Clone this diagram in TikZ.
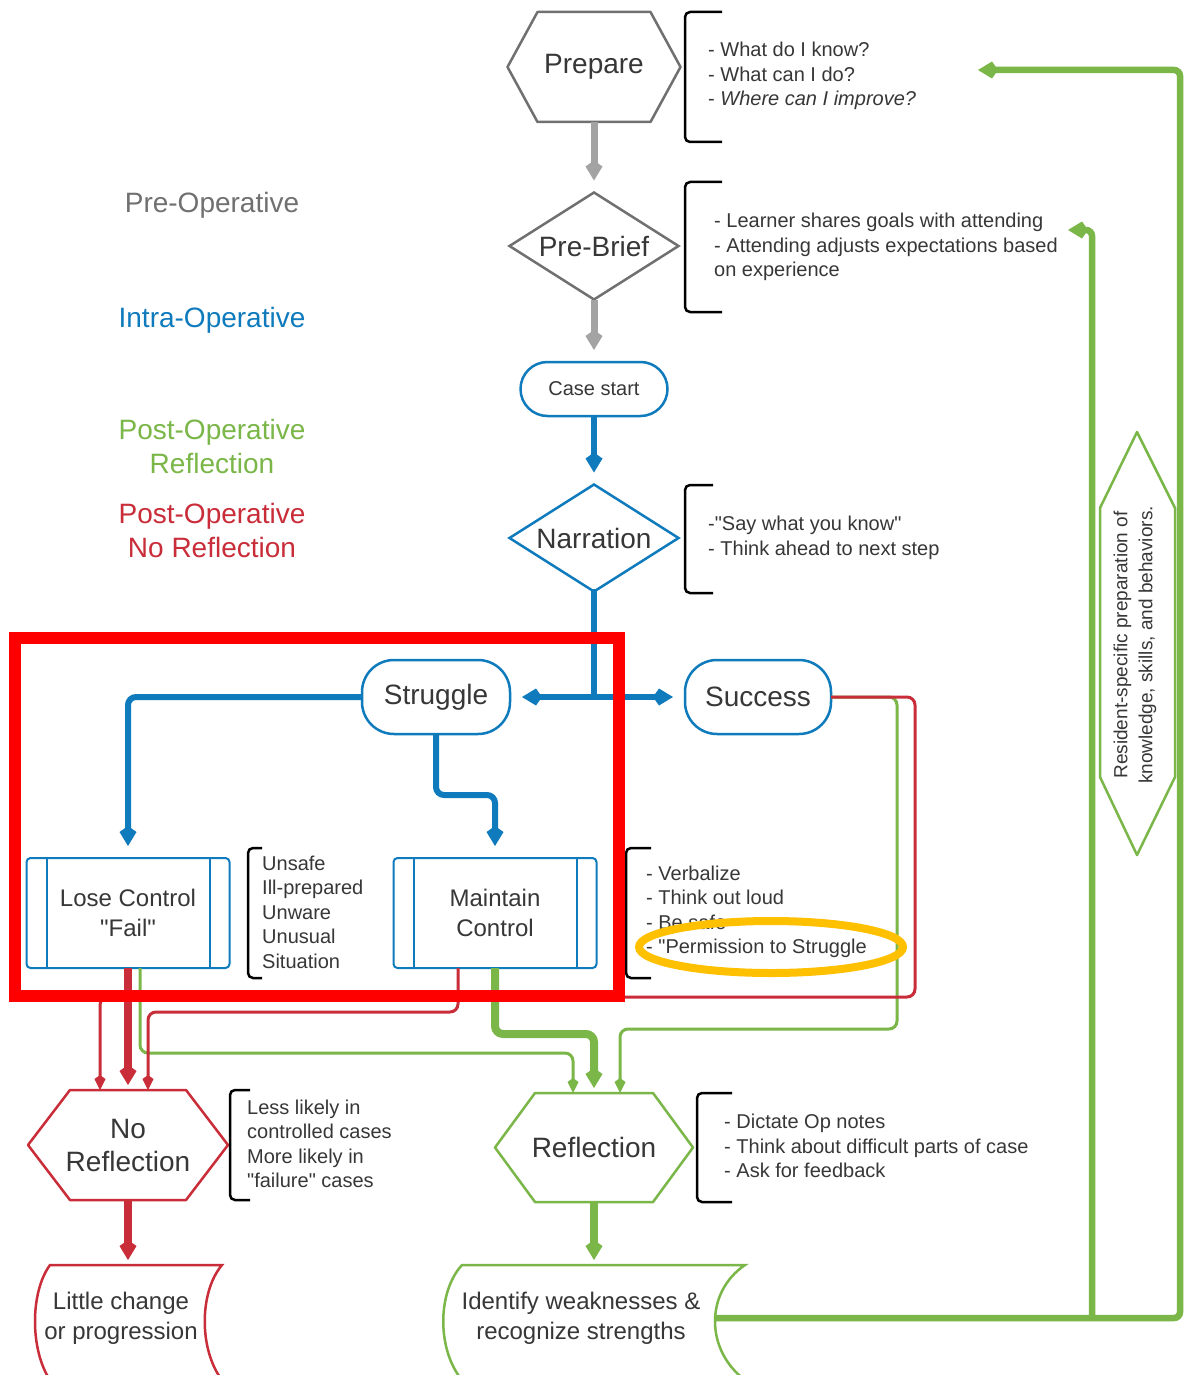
\documentclass[tikz,border=0pt]{standalone}
\usepackage{fontspec}
\setmainfont{Liberation Sans}[Ligatures=TeXOff]
\usetikzlibrary{arrows.meta,shapes.geometric,positioning}

\definecolor{opblue}{RGB}{15,123,189}
\definecolor{opgreen}{RGB}{122,182,72}
\definecolor{opred}{RGB}{201,45,57}
\definecolor{opgray}{RGB}{112,112,112}
\definecolor{linegray}{RGB}{163,163,163}
\definecolor{txt}{RGB}{55,55,55}
\definecolor{hilite}{RGB}{255,0,0}
\definecolor{gold}{RGB}{255,192,0}

% hexagon round a node: name, inset, colour
\newcommand{\hexa}[3]{%
  \draw[#3,line width=2.5pt,line join=round] (#1.west) -- ([xshift=#2]#1.north west)
    -- ([xshift=-#2]#1.north east) -- (#1.east) -- ([xshift=-#2]#1.south east)
    -- ([xshift=#2]#1.south west) -- cycle;}

\tikzset{
  big/.style={font=\fontsize{28}{33}\selectfont,text=txt,align=center},
  mid/.style={font=\fontsize{24}{30}\selectfont,text=txt,align=center},
  small/.style={font=\fontsize{20}{24.5}\selectfont,text=txt,align=left,anchor=west,inner sep=0pt},
  phase/.style={font=\fontsize{28}{34}\selectfont,align=center},
  hexnode/.style={big,minimum width=#1,minimum height=110pt,inner sep=0pt,outer sep=0pt},
  decision/.style={diamond,draw=#1,line width=2.5pt,shape aspect=1.6,minimum width=169pt,minimum height=107pt,inner sep=0pt,outer sep=0pt,big},
  stadium/.style={draw=opblue,line width=2.5pt,rounded corners=#1,inner sep=0pt,outer sep=0pt},
  procbox/.style={draw=opblue,line width=2pt,rounded corners=4pt,minimum width=203pt,minimum height=110pt,inner sep=0pt,outer sep=0pt,mid},
  bracket/.style={line width=2.5pt,rounded corners=5pt},
  bigtip/.tip={Kite[length=20pt,width=17pt,inset=6pt,line width=0pt]},
  thintip/.tip={Kite[length=15pt,width=11pt,inset=4pt,line width=0pt]},
  grayflow/.style={-bigtip,linegray,line width=7pt,shorten >=12pt},
  blueline/.style={opblue,line width=6pt,line cap=rect},
  blueflow/.style={opblue,line width=6pt,-bigtip,shorten >=12pt,rounded corners=8pt},
  redthin/.style={-thintip,opred,line width=3pt,rounded corners=8pt},
  redflow/.style={-bigtip,opred,line width=8pt,shorten >=5pt},
  greenthin/.style={-thintip,opgreen,line width=3pt,rounded corners=8pt},
  greenflow/.style={-bigtip,opgreen,line width=8pt,shorten >=5pt,rounded corners=8pt},
  greenback/.style={-bigtip,opgreen,line width=6.5pt,rounded corners=6pt}
}

\begin{document}
\begin{tikzpicture}[x=1pt,y=-1pt]
\useasboundingbox (0,0) rectangle (1184,1375);
\clip (0,0) rectangle (1184,1375);
\fill[white] (0,0) rectangle (1184,1375);

% phases
\node[phase,text=opgray] (preop) at (212,205) {Pre-Operative};
\node[phase,text=opblue] (intraop) at (212,320) {Intra-Operative};
\node[phase,text=opgreen] (postref) at (212,446) {Post-Operative\\Reflection};
\node[phase,text=opred] (postnoref) at (212,530) {Post-Operative\\No Reflection};

% main chain
\node[hexnode=173pt] (prep) at (594,67) {Prepare};
\hexa{prep}{30pt}{opgray}
\node[decision=opgray] (brief) at (594,246) {Pre-Brief};
\node[stadium=27pt,minimum width=147pt,minimum height=54pt,font=\fontsize{20}{24}\selectfont,text=txt] (start) at (594,389) {Case start};
\node[decision=opblue] (narr) at (594,538) {Narration};
\node[stadium=32pt,minimum width=148pt,minimum height=74pt,big] (strug) at (436,697) {Struggle};
\node[stadium=32pt,minimum width=146pt,minimum height=74pt,big] (succ) at (758,697) {Success};
\node[procbox] (lose) at (128,913) {Lose Control\\"Fail"};
\node[procbox] (keep) at (495,913) {Maintain\\Control};
\foreach \n in {lose,keep} {
  \draw[opblue,line width=2pt] ([xshift=20pt]\n.north west) -- ([xshift=20pt]\n.south west);
  \draw[opblue,line width=2pt] ([xshift=-20pt]\n.north east) -- ([xshift=-20pt]\n.south east);
}
\node[hexnode=200pt] (noref) at (128,1145) {No\\Reflection};
\hexa{noref}{42pt}{opred}
\node[hexnode=198pt,minimum height=109pt] (refl) at (594,1147.5) {Reflection};
\hexa{refl}{40pt}{opgreen}
\node[mid,minimum width=172pt,minimum height=106pt,inner sep=0pt,outer sep=0pt] (little) at (121,1318) {Little change\\or progression};
\draw[opred,line width=2.5pt] (222,1380) .. controls (199,1350) and (199,1292) .. (222,1265)
  -- (50,1265) .. controls (30,1292) and (30,1350) .. (50,1380);
\node[mid,minimum width=268pt,minimum height=106pt,inner sep=0pt,outer sep=0pt] (ident) at (581,1318) {Identify weaknesses \&\\recognize strengths};
\draw[opgreen,line width=2.5pt] (745,1380) .. controls (705,1350) and (705,1292) .. (745,1265)
  -- (462,1265) .. controls (437,1292) and (437,1350) .. (462,1380);
\node[font=\fontsize{19}{25}\selectfont,text=txt,rotate=90,align=center] (resid) at (1135,645) {Resident-specific preparation of\\knowledge, skills, and behaviors.};
\draw[opgreen,line width=2.5pt,line join=round] (1137,432) -- (1175,508) -- (1175,777)
  -- (1137,855) -- (1100,777) -- (1100,508) -- cycle;

% notes
\foreach \bx/\bt/\ya/\yb in {685/722/12/142, 685/722/182/312, 685/713/485/593,
    248/262/848/978, 626/651/848/978, 230/250/1090/1200, 697/732/1093/1202}
  \draw[bracket] (\bt,\ya) -- (\bx,\ya) -- (\bx,\yb) -- (\bt,\yb);
\node[small] (prepnote) at (708,76) {- What do I know?\\- What can I do?\\- \textit{Where can I improve?}};
\node[small] (briefnote) at (714,247) {- Learner shares goals with attending\\- Attending adjusts expectations based\\on experience};
\node[small] (narrnote) at (708,538) {-"Say what you know"\\- Think ahead to next step};
\node[small] (losenote) at (262,912) {Unsafe\\Ill-prepared\\Unware\\Unusual\\Situation};
\node[small] (keepnote) at (646,912) {- Verbalize\\- Think out loud\\- Be safe\\- "Permission to Struggle};
\node[small] (norefnote) at (247,1144) {Less likely in\\controlled cases\\More likely in\\"failure" cases};
\node[small] (reflnote) at (724,1146) {- Dictate Op notes\\- Think about difficult parts of case\\- Ask for feedback};

% connectors
\draw[grayflow] (prep) -- (brief);
\draw[grayflow] (brief) -- (start);
\draw[blueflow] (start) -- (narr);
\coordinate (split) at (594,697);
\draw[blueline] (narr) -- (split);
\draw[blueflow] (split) -- (strug);
\draw[blueflow] (split) -- (succ);
\draw[blueflow] (strug.west) -| (lose.north);
\draw[blueflow] (strug.south) -- ++(0,61) -| (keep.north);

\draw[greenthin] ([xshift=12pt]lose.south) -- ++(0,85) -| ([xshift=-21pt]refl.north);
\draw[greenflow] (keep.south) -- ++(0,66) -| (refl.north);
\draw[greenthin] (succ.east) -| (897,1029) -| ([xshift=26pt]refl.north);
\draw[redflow] (lose) -- (noref);
\draw[redthin] ([xshift=-37pt]keep.south) -- ++(0,44) -| ([xshift=20pt]noref.north);
\draw[redthin] (succ.east) -| (915,997) -| ([xshift=-28pt]noref.north);
\draw[redflow] (noref.south) -- (noref.south |- little.north);
\draw[greenflow] (refl.south) -- (refl.south |- ident.north);

\coordinate (prepfb) at (978,70);
\coordinate (brieffb) at (1068,230);
\coordinate (fork) at (1092,1318);
\draw[greenback] (ident.east) -- (1180,1318) -- (1180,70) -- (prepfb);
\draw[greenback] (fork) -- (1092,230) -- (brieffb);

% highlights
\draw[hilite,line width=12pt] (15,638) rectangle (619,996);
\draw[gold,line width=8pt] (771,947) ellipse [x radius=132pt,y radius=26pt];
\end{tikzpicture}
\end{document}
